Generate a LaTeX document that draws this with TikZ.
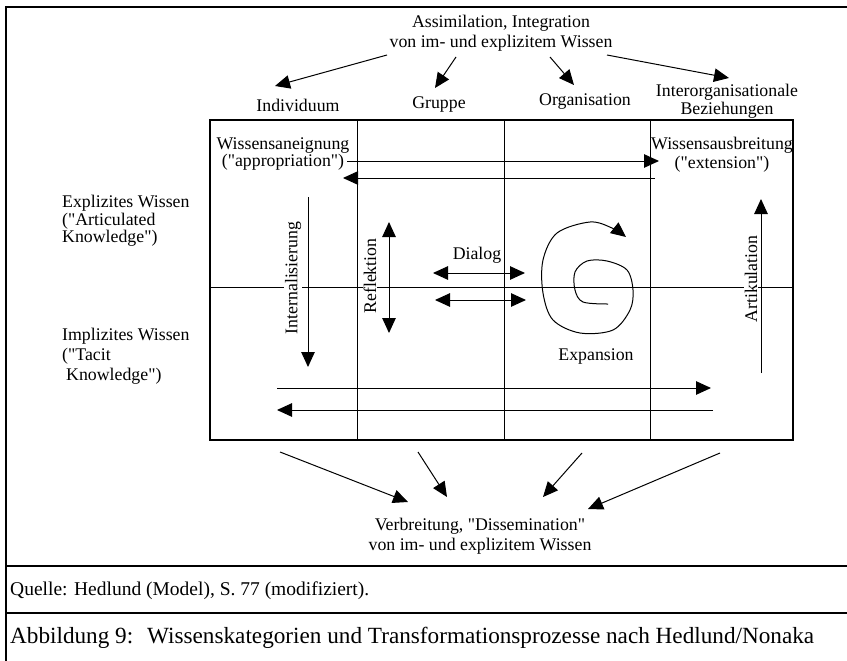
\documentclass[tikz,border=0pt]{standalone}
\usepackage{fontspec}
\setmainfont{Liberation Serif}
\usetikzlibrary{arrows.meta}
\newcommand\sdq{\XeTeXglyph\XeTeXcharglyph34 }
\begin{document}
\begin{tikzpicture}[x=1pt,y=-1pt,
  txt/.style={font=\fontsize{17.8}{19}\selectfont, inner sep=0pt},
  mtxt/.style={txt, align=center},
  thinline/.style={line width=1pt},
  tip/.tip={Triangle[length=15pt,width=13.5pt]},
  arr/.style={line width=1pt, -tip},
  darr/.style={line width=1pt, tip-tip},
  framel/.style={line width=1.8pt},
  boxl/.style={line width=2.6pt},
  occl/.style={txt, fill=white, inner sep=1pt, rotate=90}
]
\useasboundingbox (0,0) rectangle (847,661);
% outer frame
\draw[framel] (847,7) -- (6,7) -- (6,661);
\draw[framel] (6,566) -- (847,566);
\draw[framel] (6,613) -- (847,613);
% grid
\draw[thinline] (210,287) -- (793,287);
\foreach \x in {357,504,650} \draw[thinline] (\x,120) -- (\x,440);
\draw[boxl] (210,120) rectangle (793,440);

% top text and headers
\node[mtxt] (assim) at (501,33) {Assimilation, Integration\\[1pt]von im- und explizitem Wissen};
\node[txt] (indiv) at (298,105) {Individuum};
\node[txt] (grup) at (439,105) {Gruppe};
\node[txt] (org) at (585,102) {Organisation};
\node[mtxt, font=\fontsize{17.8}{18}\selectfont] (inter) at (727,101) {Interorganisationale\\Beziehungen};
\coordinate (a1s) at (387,55); \coordinate (a1e) at (275,86);
\coordinate (a2s) at (456,57); \coordinate (a2e) at (435,88);
\coordinate (a3s) at (550,57); \coordinate (a3e) at (574,85);
\coordinate (a4s) at (607,55); \coordinate (a4e) at (729,78);
\draw[arr] (a1s) -- (a1e);
\draw[arr] (a2s) -- (a2e);
\draw[arr] (a3s) -- (a3e);
\draw[arr] (a4s) -- (a4e);

% left labels
\node[txt, align=left, anchor=west, font=\fontsize{17.8}{17.5}\selectfont] (expl) at (62,221) {Explizites Wissen\\(\sdq Articulated\\Knowledge\sdq)};
\node[txt, align=left, anchor=west, font=\fontsize{17.8}{20}\selectfont] (impl) at (62,356) {Implizites Wissen\\(\sdq Tacit\\\hspace*{4pt}Knowledge\sdq)};

% corner labels
\node[mtxt, font=\fontsize{17.8}{17}\selectfont] (aneig) at (283,154) {Wissensaneignung\\(\sdq appropriation\sdq)};
\node[mtxt, font=\fontsize{17.8}{19}\selectfont] (ausbr) at (722,155) {Wissensausbreitung\\(\sdq extension\sdq)};
\coordinate (u1s) at (347,161); \coordinate (u1e) at (659,161);
\coordinate (u2s) at (655,178); \coordinate (u2e) at (343,178);
\draw[arr] (u1s) -- (u1e);
\draw[arr] (u2s) -- (u2e);

% vertical processes
\node[occl] (intl) at (293,278) {Internalisierung};
\coordinate (is) at (308,197); \coordinate (ie) at (308,367);
\draw[arr] (is) -- (ie);
\node[occl] (refl) at (370,276) {Reflektion};
\coordinate (rs) at (389,222); \coordinate (re) at (389,333);
\draw[darr] (rs) -- (re);
\node[occl] (artk) at (751,279) {Artikulation};
\coordinate (ks) at (761,373); \coordinate (ke) at (761,199);
\draw[arr] (ks) -- (ke);

% dialog
\node[txt] (dial) at (477,255) {Dialog};
\coordinate (d1s) at (433,273); \coordinate (d1e) at (525,273);
\coordinate (d2s) at (435,300); \coordinate (d2e) at (526,300);
\draw[darr] (d1s) -- (d1e);
\draw[darr] (d2s) -- (d2e);

% spiral
\draw[arr] plot[smooth, tension=0.55] coordinates {(608,304) (583,302) (575,290) (575,272) (587,261) (607,261) (627,270) (633,290) (630,310) (613,330) (580,333) (553,320) (543,293) (543,260) (557,233) (590,222) (612,228) (626,237)};
\node[txt] (expa) at (596,357) {Expansion};

% bottom horizontal arrows
\coordinate (b1s) at (277,388); \coordinate (b1e) at (711,388);
\coordinate (b2s) at (713,410); \coordinate (b2e) at (277,410);
\draw[arr] (b1s) -- (b1e);
\draw[arr] (b2s) -- (b2e);

% dissemination
\node[mtxt, font=\fontsize{17.8}{20}\selectfont] (diss) at (480,536) {Verbreitung, \sdq Dissemination\sdq\\von im- und explizitem Wissen};
\coordinate (v1s) at (280,452); \coordinate (v1e) at (408,502);
\coordinate (v2s) at (418,452); \coordinate (v2e) at (447,497);
\coordinate (v3s) at (582,453); \coordinate (v3e) at (543,497);
\coordinate (v4s) at (720,453); \coordinate (v4e) at (588,509);
\draw[arr] (v1s) -- (v1e);
\draw[arr] (v2s) -- (v2e);
\draw[arr] (v3s) -- (v3e);
\draw[arr] (v4s) -- (v4e);

% source and caption
\node[anchor=west, inner sep=0pt, font=\fontsize{19.5}{20}\selectfont] (quelle) at (10,591) {Quelle: Hedlund (Model), S. 77 (modifiziert).};
\node[anchor=west, inner sep=0pt, font=\fontsize{23.2}{24}\selectfont] (capt) at (10,638) {\makebox[137pt][l]{Abbildung 9:}Wissenskategorien und Transformationsprozesse nach Hedlund/Nonaka};
\end{tikzpicture}
\end{document}
